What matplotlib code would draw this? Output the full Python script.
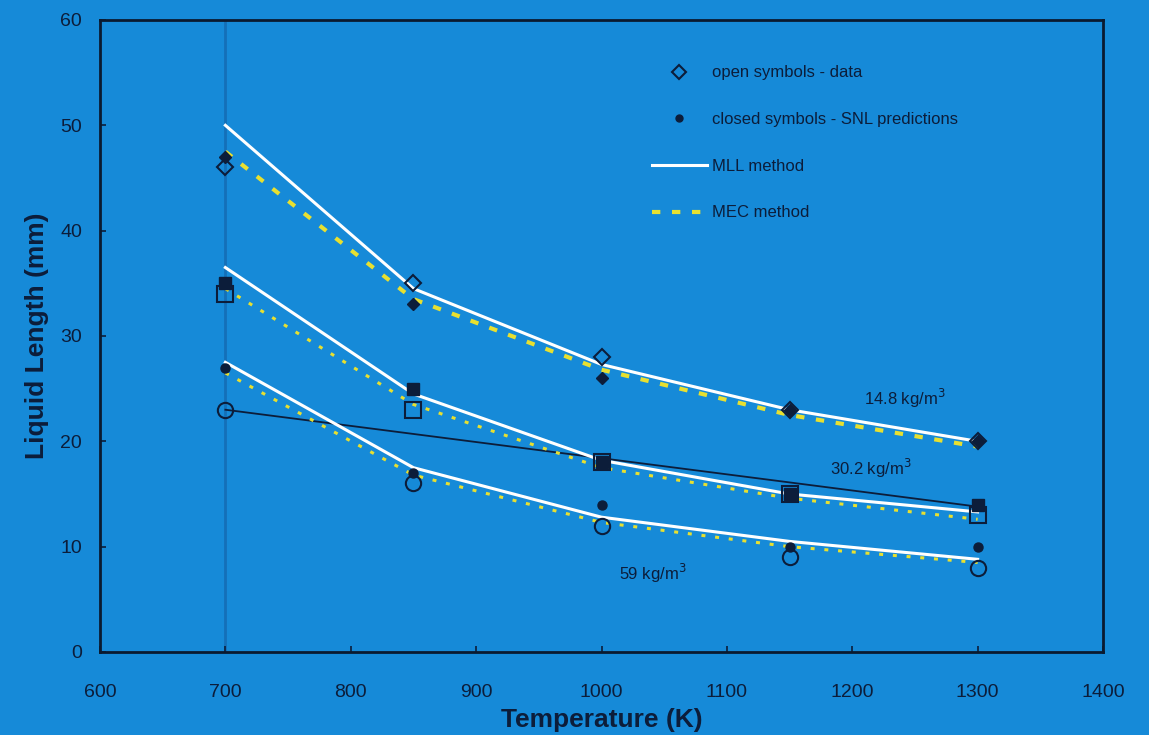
import matplotlib
matplotlib.use("Agg")
import matplotlib.pyplot as plt
from matplotlib.lines import Line2D

temps = [700, 850, 1000, 1150, 1300]

# 14.8 kg/m3 (diamonds)
d148_data = [46, 35, 28, 23, 20]
d148_snl = [47, 33, 26, 23, 20]
d148_mll = [50, 34.5, 27.3, 23, 20]
d148_mec = [47.5, 33.5, 26.8, 22.5, 19.5]

# 30.2 kg/m3 (squares)
d302_data = [34, 23, 18, 15, 13]
d302_snl = [35, 25, 18, 15, 14]
d302_mll = [36.5, 24.5, 18.2, 15, 13.3]
d302_mec = [34.5, 23.5, 17.5, 14.6, 12.6]

# 59 kg/m3 (circles)
d59_data = [23, 16, 12, 9, 8]
d59_snl = [27, 17, 14, 10, 10]
d59_mll = [27.5, 17.5, 12.8, 10.5, 8.8]
d59_mec = [26.5, 16.8, 12.3, 10, 8.5]

# thin dark line
dark_x = [700, 1300]
dark_y = [23, 13.8]

xticks = [600, 700, 800, 900, 1000, 1100, 1200, 1300, 1400]
yticks = [0, 10, 20, 30, 40, 50, 60]

BG = "#168ad8"
INK = "#0c1d3a"
YEL = "#e8e030"

plt.rcParams['font.family'] = ['Liberation Sans', 'DejaVu Sans']

fig = plt.figure(figsize=(11.49, 7.35), dpi=100)
fig.patch.set_facecolor(BG)
ax = fig.add_axes([100/1149, 83/735, 1003/1149, 632/735])
ax.set_facecolor(BG)

ax.set_xlim(600, 1400)
ax.set_ylim(0, 60)

# faint scan artifact vertical line
ax.axvline(700, color="#1470b8", lw=2, zorder=0)

# dark line
ax.plot(dark_x, dark_y, color=INK, lw=1.3, zorder=2)

DASH = (0, (2.0, 2.8))
DOT = (0, (1.3, 3.2))
for mll, mec, style in [(d148_mll, d148_mec, 'dash'), (d302_mll, d302_mec, 'dot'), (d59_mll, d59_mec, 'dot')]:
    ax.plot(temps, mll, color="white", lw=2.2, zorder=3)
    if style == 'dash':
        ax.plot(temps, mec, color=YEL, lw=3, linestyle=DASH, zorder=3)
    else:
        ax.plot(temps, mec, color=YEL, lw=2.2, linestyle=DOT, zorder=3)

ms_open = 11
ax.plot(temps, d148_data, linestyle='none', marker='D', ms=8.5, mfc='none', mec=INK, mew=1.5, zorder=4)
ax.plot(temps, d148_snl, linestyle='none', marker='D', ms=6.5, mfc=INK, mec=INK, zorder=5)
ax.plot(temps, d302_data, linestyle='none', marker='s', ms=ms_open, mfc='none', mec=INK, mew=1.5, zorder=4)
ax.plot(temps, d302_snl, linestyle='none', marker='s', ms=8, mfc=INK, mec=INK, zorder=5)
ax.plot(temps, d59_data, linestyle='none', marker='o', ms=ms_open, mfc='none', mec=INK, mew=1.5, zorder=4)
ax.plot(temps, d59_snl, linestyle='none', marker='o', ms=6.5, mfc=INK, mec=INK, zorder=5)

ax.text(1209, 24.1, "14.8 kg/m$^3$", color=INK, fontsize=12, va='center', ha='left')
ax.text(1182, 17.4, "30.2 kg/m$^3$", color=INK, fontsize=12, va='center', ha='left')
ax.text(1014, 7.5, "59 kg/m$^3$", color=INK, fontsize=12, va='center', ha='left')

handles = [
    Line2D([], [], linestyle='none', marker='D', ms=7, mfc='none', mec=INK, mew=1.5),
    Line2D([], [], linestyle='none', marker='o', ms=5, mfc=INK, mec=INK),
    Line2D([], [], color='white', lw=2.2),
    Line2D([], [], color=YEL, lw=3, linestyle=DASH),
]
labels = ["open symbols - data", "closed symbols - SNL predictions", "MLL method", "MEC method"]
leg = ax.legend(handles, labels, loc='upper left', bbox_to_anchor=(0.535, 0.952), frameon=False,
                fontsize=12, labelspacing=1.9, handlelength=3.3, handletextpad=0.35, labelcolor=INK)

ax.set_xticks(xticks)
ax.set_yticks(yticks)
ax.tick_params(axis='both', colors=INK, labelsize=14, length=4, width=1.2, direction='in')
ax.tick_params(axis='x', pad=23)
ax.tick_params(axis='y', pad=13)
for lab in ax.get_xticklabels() + ax.get_yticklabels():
    lab.set_color(INK)
    lab.set_fontweight('medium')
for s in ax.spines.values():
    s.set_color("#0a1a30")
    s.set_linewidth(2)

ax.set_xlabel("Temperature (K)", fontsize=19, fontweight='bold', color=INK, labelpad=5)
ax.set_ylabel("Liquid Length (mm)", fontsize=19, fontweight='bold', color=INK, labelpad=8)

fig.savefig("out.png", dpi=100, facecolor=BG)
